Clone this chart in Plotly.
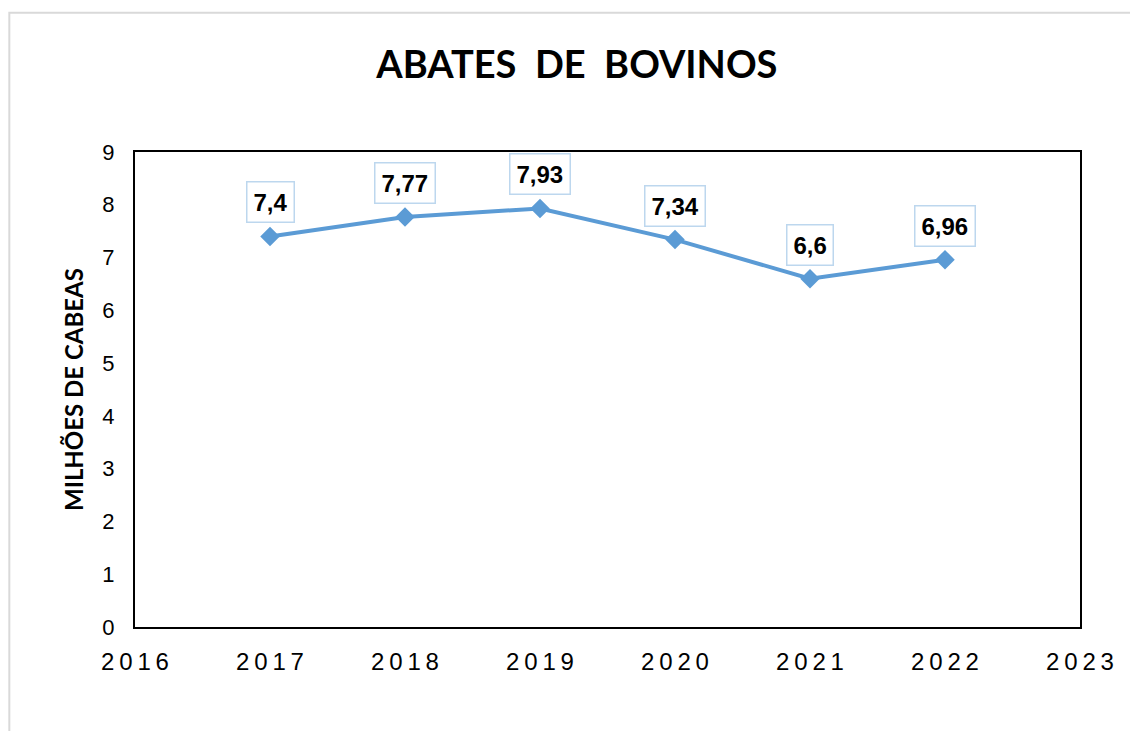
import plotly.graph_objects as go

years = [2017, 2018, 2019, 2020, 2021, 2022]
values = [7.40, 7.77, 7.93, 7.34, 6.60, 6.96]
labels = ["7,4", "7,77", "7,93", "7,34", "6,6", "6,96"]
x_ticks = [2016, 2017, 2018, 2019, 2020, 2021, 2022, 2023]
y_ticks = [0, 1, 2, 3, 4, 5, 6, 7, 8, 9]

fig = go.Figure()
fig.add_trace(go.Scatter(
    x=years, y=values, mode="lines+markers",
    line=dict(color="#5B9BD5", width=4),
    marker=dict(symbol="diamond", size=15, color="#5B9BD5"),
    hoverinfo="skip", showlegend=False,
))

for xv, yv, t in zip(years, values, labels):
    fig.add_annotation(
        x=xv, y=yv, text="<b>" + t + "</b>", showarrow=False, yshift=34,
        font=dict(family="Liberation Sans, Arial", size=24, color="#000000"),
        bgcolor="#ffffff", bordercolor="#BDD7EE", borderwidth=1.5, borderpad=6,
    )

spaced = ["\u2009".join(str(v)) for v in x_ticks]

fig.update_layout(
    width=1122, height=723,
    paper_bgcolor="#ffffff", plot_bgcolor="#ffffff",
    margin=dict(l=127, r=50, t=144, b=104),
    title=dict(text="<b>ABATES  DE  BOVINOS</b>", x=0.507, xanchor="center",
               y=0.922, yanchor="middle",
               font=dict(family="Lato, Open Sans", size=38, color="#000000")),
    xaxis=dict(range=[2016, 2023], tickvals=x_ticks, ticktext=spaced,
               showgrid=False, zeroline=False, showline=True, mirror=True,
               linecolor="#000000", linewidth=2, ticks="",
               tickfont=dict(family="Liberation Sans, Arial", size=24, color="#000000"),
               ticklabelstandoff=12),
    yaxis=dict(range=[0, 9], tickvals=y_ticks, showgrid=False, zeroline=False,
               showline=True, mirror=True, linecolor="#000000", linewidth=2, ticks="",
               tickfont=dict(family="Liberation Sans, Arial", size=22, color="#000000"),
               ticklabelstandoff=14,
               title=dict(text="<b>MILHÕES DE CABEAS</b>", standoff=12,
                          font=dict(family="Lato, Open Sans", size=24, color="#000000"))),
    shapes=[dict(type="rect", xref="paper", yref="paper", x0=-0.133, x1=1.3, y0=-0.4, y1=1.293,
                 line=dict(color="#D9D9D9", width=2), layer="below")],
)

fig.write_html("out.html")
